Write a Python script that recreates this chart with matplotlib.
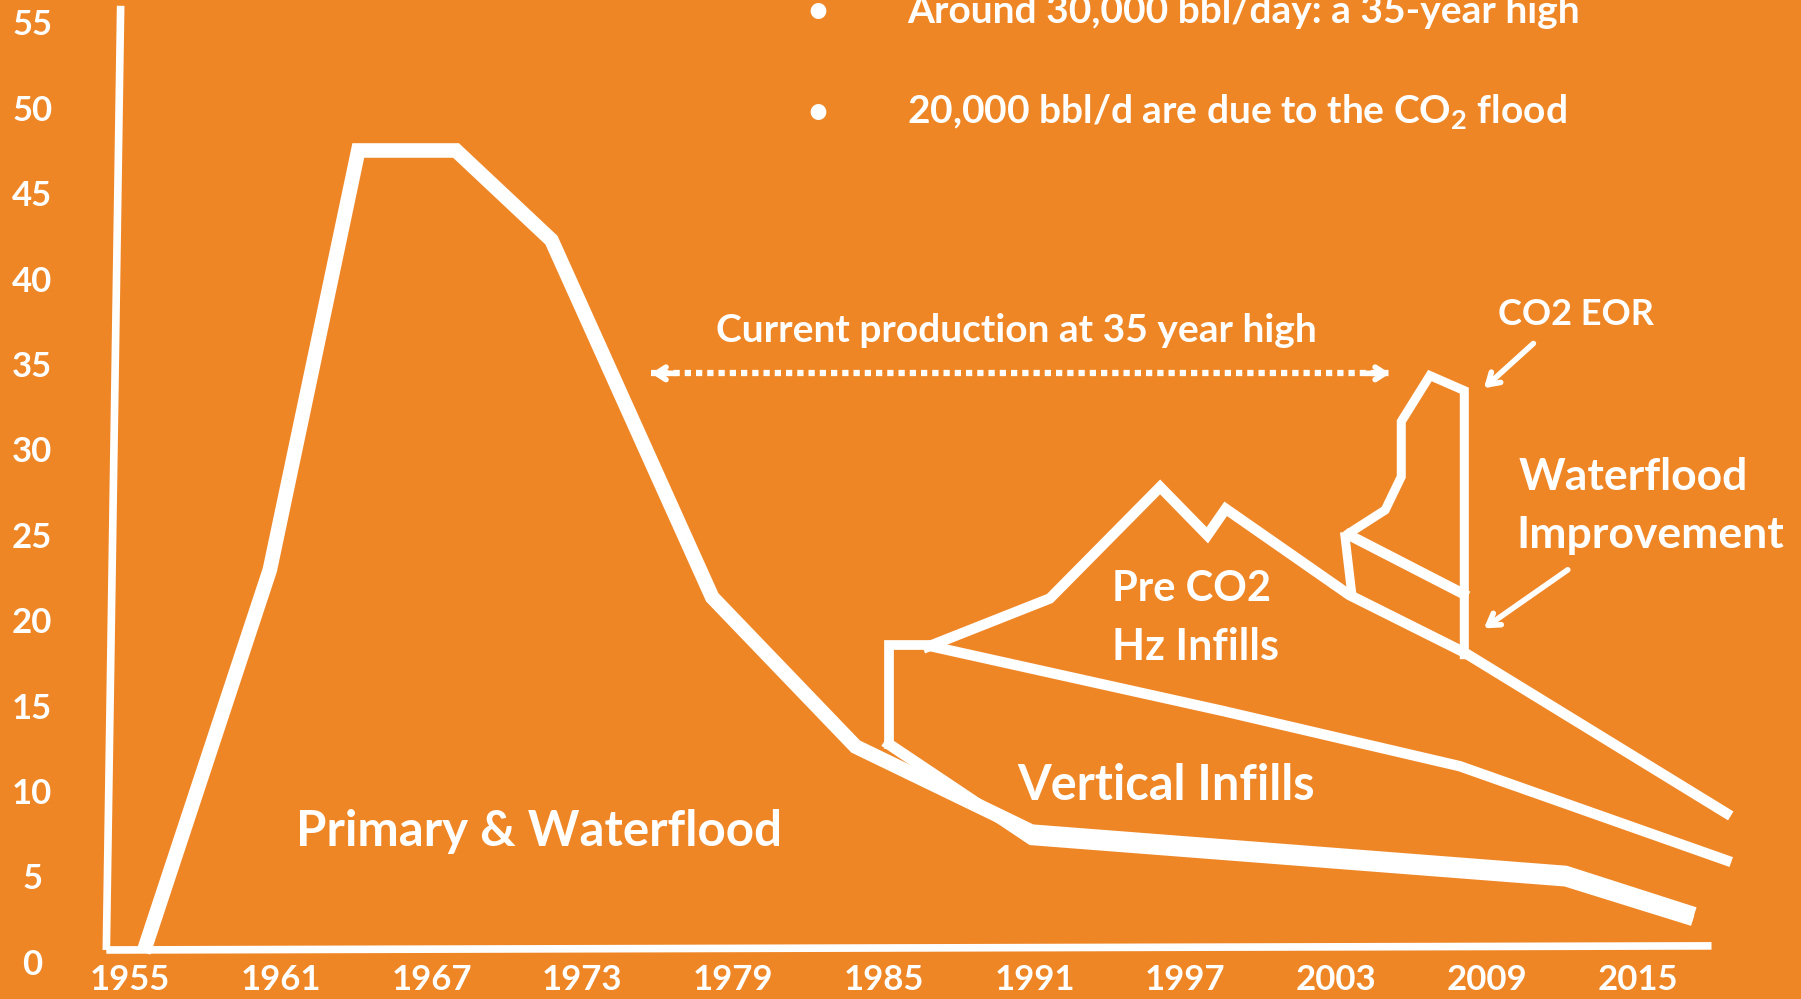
import matplotlib
matplotlib.use("Agg")
import matplotlib.pyplot as plt

# values (year, thousand bbl/d)
y_ticks = [0, 5, 10, 15, 20, 25, 30, 35, 40, 45, 50, 55]
x_ticks = [1955, 1961, 1967, 1973, 1979, 1985, 1991, 1997, 2003, 2009, 2015]

primary_years = [1955.62, 1960.56, 1964.08, 1967.97, 1971.77, 1978.17, 1983.88, 1990.88, 2012.14, 2016.99]
primary_vals = [1.14, 23.13, 47.68, 47.68, 42.43, 21.52, 12.78, 7.80, 5.38, 3.09]

vert_base_years = [1985.21, 1990.88, 2012.14, 2016.99]
vert_base_vals = [12.91, 7.33, 4.91, 2.69]

vert_step_years = [1985.21, 1985.21, 1986.95]
vert_step_vals = [12.91, 18.70, 18.70]

vert_top_years = [1986.95, 1998.51, 2007.93, 2018.54]
vert_top_vals = [18.63, 14.86, 11.63, 6.12]

hz_years = [1986.76, 1991.61, 1996.00, 1997.88, 1998.61, 2003.54, 2008.11, 2018.54]
hz_vals = [18.63, 21.45, 27.98, 25.15, 26.70, 21.65, 18.29, 8.88]

wf_edge_years = [2003.36, 2003.63]
wf_edge_vals = [25.08, 21.72]
wf_top_years = [2003.54, 2008.07]
wf_top_vals = [25.15, 21.72]

eor_years = [2003.54, 2004.96, 2005.60, 2005.60, 2006.74, 2008.11, 2008.11]
eor_vals = [25.29, 26.63, 28.58, 31.81, 34.50, 33.62, 18.16]

high_span = (1975.74, 2005.15)
high_level = 34.63

bg = '#EF8626'
fg = 'white'
font = 'Lato'

fig = plt.figure(figsize=(18.01, 9.99), dpi=100)
fig.patch.set_facecolor(bg)
ax = fig.add_axes([0, 0, 1, 1])
ax.set_facecolor(bg)
ax.set_xlim(1949.817, 2021.513)
ax.set_ylim(-2.0, 56.49)
ax.axis('off')

# hand drawn axes
ax.plot([1954.62, 1954.05], [56.15, 0.87], color=fg, lw=5.5, solid_capstyle='butt')
ax.plot([1954.05, 2017.95], [0.87, 1.11], color=fg, lw=5.5, solid_capstyle='butt')

for v in y_ticks:
    ax.text(1951.1, v, str(v), color=fg, fontsize=25, fontweight='bold',
            family=font, ha='center', va='center')
for yr in x_ticks:
    ax.text(yr, -0.9, str(yr), color=fg, fontsize=25, fontweight='bold',
            family=font, ha='center', va='center')

# production wedges
ax.plot(primary_years, primary_vals, color=fg, lw=10.5, solid_joinstyle='miter')
ax.plot(vert_base_years, vert_base_vals, color=fg, lw=8, solid_joinstyle='miter')
ax.plot(vert_step_years, vert_step_vals, color=fg, lw=7, solid_joinstyle='miter')
ax.plot(vert_top_years, vert_top_vals, color=fg, lw=7.5, solid_joinstyle='miter')
ax.plot(hz_years, hz_vals, color=fg, lw=7.5, solid_joinstyle='miter')
ax.plot(wf_edge_years, wf_edge_vals, color=fg, lw=6.5)
ax.plot(wf_top_years, wf_top_vals, color=fg, lw=7.5)
ax.plot(eor_years, eor_vals, color=fg, lw=6.5, solid_joinstyle='miter')

# 35 year high marker
ax.plot(high_span, [high_level, high_level], color=fg, lw=4.5,
        linestyle=(0, (1.0, 0.8)), solid_capstyle='butt', dash_capstyle='butt')
for x_end, x_from in [(high_span[0], high_span[0] + 1), (high_span[1], high_span[1] - 1)]:
    ax.annotate('', xy=(x_end, high_level), xytext=(x_from, high_level),
                arrowprops=dict(arrowstyle='->,head_length=0.7,head_width=0.45',
                                color=fg, lw=4, shrinkA=0, shrinkB=0))
ax.text(1990.28, 37.12, 'Current production at 35 year high', color=fg,
        fontsize=28, fontweight='bold', family=font, ha='center', va='center')

# callout arrows
ax.annotate('', xy=(2008.89, 33.76), xytext=(2010.86, 36.38),
            arrowprops=dict(arrowstyle='->,head_length=0.8,head_width=0.5',
                            color=fg, lw=4, shrinkA=0, shrinkB=0))
ax.annotate('', xy=(2008.89, 19.70), xytext=(2012.23, 23.13),
            arrowprops=dict(arrowstyle='->,head_length=0.8,head_width=0.5',
                            color=fg, lw=4, shrinkA=0, shrinkB=0))

label_kw = dict(color=fg, fontweight='bold', family=font, va='center')
ax.text(2012.55, 38.06, 'CO2 EOR', fontsize=26, ha='center', **label_kw)
ax.text(2010.27, 28.58, 'Waterflood', fontsize=32, ha='left', **label_kw)
ax.text(2010.18, 25.15, 'Improvement', fontsize=32, ha='left', **label_kw)
ax.text(1994.08, 21.99, 'Pre CO2', fontsize=30, ha='left', **label_kw)
ax.text(1994.08, 18.63, 'Hz Infills', fontsize=31, ha='left', **label_kw)
ax.text(1990.33, 10.49, 'Vertical Infills', fontsize=35, ha='left', **label_kw)
ax.text(1961.61, 7.80, 'Primary & Waterflood', fontsize=35.5, ha='left', **label_kw)

# bullets
ax.text(1982.37, 55.82, '\u2022', fontsize=26, ha='center', **label_kw)
ax.text(1985.94, 55.82, 'Around 30,000 bbl/day: a 35-year high', fontsize=28,
        ha='left', **label_kw)
ax.text(1982.37, 49.90, '\u2022', fontsize=26, ha='center', **label_kw)
ax.text(1985.94, 49.90, '20,000 bbl/d are due to the CO$_\\mathregular{2}$ flood',
        fontsize=28, ha='left', **label_kw)

fig.savefig('out.png', dpi=100, facecolor=bg)
